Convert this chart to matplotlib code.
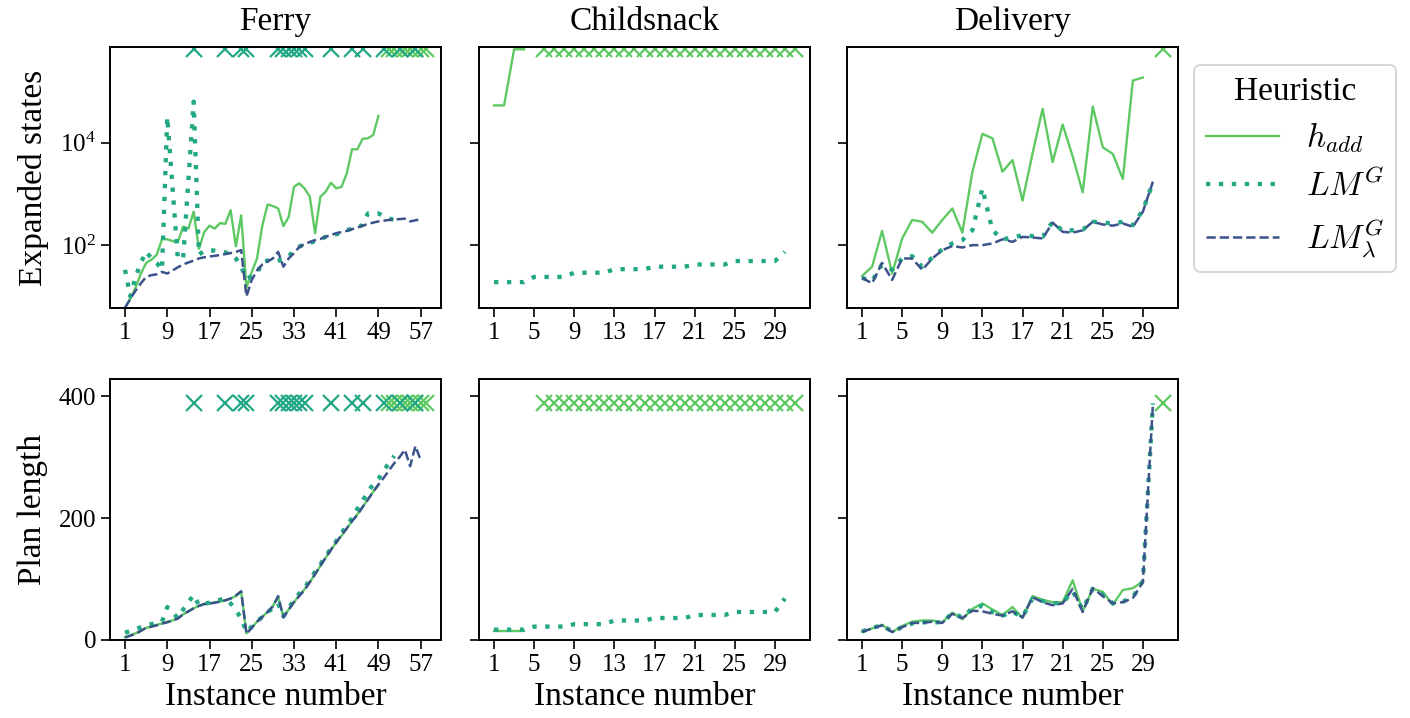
import numpy as np
import matplotlib
matplotlib.use('Agg')
import matplotlib.pyplot as plt
from matplotlib.lines import Line2D

plt.rcParams['font.family'] = ['Liberation Serif', 'DejaVu Serif']
plt.rcParams['mathtext.fontset'] = 'stix'

domains = ['Ferry', 'Childsnack', 'Delivery']
heuristics = [r'$h_{add}$', r'$LM^G$', r'$LM^G_\lambda$']
colors = ['#5ec962', '#22a884', '#3b528b']
n_instances = [58, 31, 31]
tick_steps = [8, 4, 4]

# expanded states (None = missing)
ferry_exp_hadd = [6, 9, 15, 28, 45, 52, 65, 130, 130, 120,
                  115, 230, 210, 450, 85, 180, 240, 210, 270, 260,
                  480, 95, 380, 15, 30, 55, 240, 620, 580, 520,
                  235, 355, 1380, 1600, 1280, 880, 170, 880, 1100, 1650,
                  1280, 1370, 2500, 7400, 7400, 11800, 12100, 14000, 33000]
ferry_exp_lmg = [33, 10, 24, 45, 75, 55, 45, 33, 31600, None,
                 55, 55, None, 63000, 65, 78, 80, 78, 75, 72,
                 68, 55, 38, 22, 25, 28, 47, 50, 47, 50,
                 52, 60, 80, 93, 105, 110, 120, 130, 145, 155,
                 163, 175, 195, 210, 225, 245, 415, 420, 415, 370,
                 330, 310]
ferry_exp_lml = [6, 9, 13, 18, 24, 26, 27, 30, 28, 32,
                 37, 42, 46, 50, 55, 58, 60, 62, 64, 67,
                 70, 74, 80, 10, 21, 32, 42, 48, 55, 74,
                 38, 55, 70, 92, 105, 115, 125, 132, 145, 158,
                 170, 180, 190, 205, 220, 240, 258, 275, 290, 300,
                 310, 316, 322, 328, 290, 305, 318]

cs_exp_hadd = [53000, 53000, 660000, 660000]
cs_exp_lmg = [19, 19, 19, 19, 24, 24, 24, 24, 29, 29,
              29, 29, 34, 34, 34, 34, 38, 38, 38, 38,
              42, 42, 42, 42, 49, 49, 49, 49, 49, 74]
cs_exp_lml = []

dl_exp_hadd = [25, 38, 190, 28, 135, 310, 285, 175, 310, 520,
               175, 2700, 14800, 12100, 2700, 4550, 740, 6150, 45500, 4150,
               22500, 5350, 1070, 50500, 8100, 6000, 1950, 162000, 186000]
dl_exp_lmg = [23, 20, 42, 33, 55, 61, 38, 57, 83, 108,
              125, 195, 1280, 195, 130, 140, 157, 150, 145, 285,
              190, 195, 200, 285, 275, 265, 285, 245, 480, 1650]
dl_exp_lml = [23, 18, 45, 21, 55, 55, 33, 55, 80, 96,
              90, 100, 100, 108, 130, 116, 145, 141, 135, 275,
              182, 175, 195, 285, 253, 240, 265, 228, 450, 1730]

# plan lengths
ferry_len_hadd = [5, 8, 11, 15, 20, 22, 25, 27, 30, 32,
                  36, 42, 47, 52, 56, 59, 60, 62, 63, 65,
                  68, 72, 79, 11, 20, 30, 38, 46, 56, 70,
                  38, 50, 62, 73, 83, 95, 108, 121, 135, 148,
                  160, 171, 183, 195, 206, 218, 231, 243, 254]
ferry_len_lmg = [12, 15, 18, 21, 24, 26, 28, 30, 54, None,
                 36, 50, None, 74, 57, 60, 61, 63, 66, 68,
                 60, 48, 36, 13, 22, 30, 38, 46, 52, 60,
                 39, 52, 66, 76, 86, 98, 112, 124, 137, 150,
                 162, 175, 188, 200, 215, 228, 243, 255, 264, 278,
                 290, 302]
ferry_len_lml = [4, 7, 10, 15, 20, 22, 24, 27, 29, 32,
                 35, 42, 47, 52, 56, 59, 60, 61, 63, 65,
                 68, 73, 80, 10, 20, 30, 38, 46, 55, 72,
                 37, 50, 62, 72, 82, 95, 108, 122, 135, 148,
                 160, 172, 183, 195, 205, 218, 230, 243, 255, 266,
                 278, 290, 300, 312, 285, 318, 295]

cs_len_hadd = [14, 14, 14, 14]
cs_len_lmg = [17, 17, 17, 17, 22, 22, 22, 22, 26, 26,
              26, 26, 32, 32, 32, 32, 36, 36, 36, 36,
              41, 41, 41, 41, 46, 46, 46, 46, 46, 68]
cs_len_lml = []

dl_len_hadd = [14, 19, 25, 13, 23, 30, 32, 32, 29, 45,
               34, 51, 60, 50, 41, 54, 36, 72, 66, 62,
               62, 98, 47, 84, 79, 58, 82, 85, 96]
dl_len_lmg = [14, 20, 24, 14, 21, 27, 29, 29, 29, 44,
              37, 52, 56, 46, 40, 46, 38, 68, 64, 60,
              61, 80, 50, 84, 74, 60, 63, 70, 97, 388]
dl_len_lml = [13, 19, 24, 13, 21, 28, 28, 30, 28, 43,
              36, 48, 47, 43, 40, 47, 37, 70, 62, 57,
              60, 84, 46, 85, 72, 60, 62, 69, 95, 387]

# failed instances (drawn as crosses)
ferry_fail_hadd = [51, 52, 53, 54, 55, 56, 57, 58]
ferry_fail_lmg = [14, 20, 23, 24, 30, 31, 32, 33, 34, 35, 40, 44, 46, 50, 53, 56]
cs_fail_hadd = list(range(6, 32))
cs_fail_lmg = []
dl_fail_hadd = [31]
dl_fail_lmg = []

exp_data = [[ferry_exp_hadd, ferry_exp_lmg, ferry_exp_lml],
            [cs_exp_hadd, cs_exp_lmg, cs_exp_lml],
            [dl_exp_hadd, dl_exp_lmg, dl_exp_lml]]
len_data = [[ferry_len_hadd, ferry_len_lmg, ferry_len_lml],
            [cs_len_hadd, cs_len_lmg, cs_len_lml],
            [dl_len_hadd, dl_len_lmg, dl_len_lml]]
fail_data = [[ferry_fail_hadd, ferry_fail_lmg],
             [cs_fail_hadd, cs_fail_lmg],
             [dl_fail_hadd, dl_fail_lmg]]

exp_fail_value = 6.6e5
len_fail_value = 389

styles = [dict(ls='-', lw=1.7),
          dict(ls=(0, (1, 2.0)), lw=3.1),
          dict(ls='--', lw=1.8)]

fig = plt.figure(figsize=(14.1, 7.18), dpi=100)
W, H = 1410, 718
lefts = [110, 479, 847]
tops = [47, 379]
aw, ah = 331, 261

for row in range(2):
    for col in range(3):
        ax = fig.add_axes([lefts[col] / W, 1 - (tops[row] + ah) / H, aw / W, ah / H])
        series = exp_data[col] if row == 0 else len_data[col]
        for k in range(3):
            vals = np.array([np.nan if v is None else v for v in series[k]], dtype=float)
            if len(vals) == 0:
                continue
            x = np.arange(1, len(vals) + 1)
            m = ~np.isnan(vals)
            ax.plot(x[m], vals[m], color=colors[k], **styles[k])
        fv = exp_fail_value if row == 0 else len_fail_value
        # hadd crosses first, LM^G on top
        for k in [0, 1]:
            fx = fail_data[col][k]
            if fx:
                ax.plot(fx, [fv] * len(fx), ls='none', marker='x', ms=11, mew=1.6,
                        color=colors[k])
        n = n_instances[col]
        ax.set_xlim(1 - 0.05 * (n - 1), n + 0.05 * (n - 1))
        ax.set_xticks(range(1, n + 1, tick_steps[col]))
        if row == 0:
            ax.set_yscale('log')
            ax.set_ylim(5.95, 7.3e5)
            ax.set_yticks([1e2, 1e4])
            ax.minorticks_off()
            ax.set_title(domains[col], fontsize=24, pad=12)
        else:
            ax.set_ylim(0, 428)
            ax.set_yticks([0, 200, 400])
            ax.set_xlabel('Instance number', fontsize=24, labelpad=4)
        if col == 0:
            ax.set_ylabel('Expanded states' if row == 0 else 'Plan length',
                          fontsize=24, labelpad=8)
        else:
            ax.set_yticklabels([])
        ax.tick_params(labelsize=18, length=6.5, width=1.2)
        for s in ax.spines.values():
            s.set_linewidth(1.4)

handles = [Line2D([], [], color=colors[k], **styles[k]) for k in range(3)]
leg = fig.legend(handles, heuristics, title='Heuristic', loc='upper left',
                 bbox_to_anchor=(1194 / W, 1 - 65 / H), borderaxespad=0,
                 prop={'size': 24, 'math_fontfamily': 'cm'},
                 title_fontsize=24, handlelength=2.2, labelspacing=0.4,
                 borderpad=0.35, frameon=True)
leg.get_frame().set_edgecolor('0.8')
leg.get_frame().set_linewidth(1.4)

fig.savefig('out.png', dpi=100)
